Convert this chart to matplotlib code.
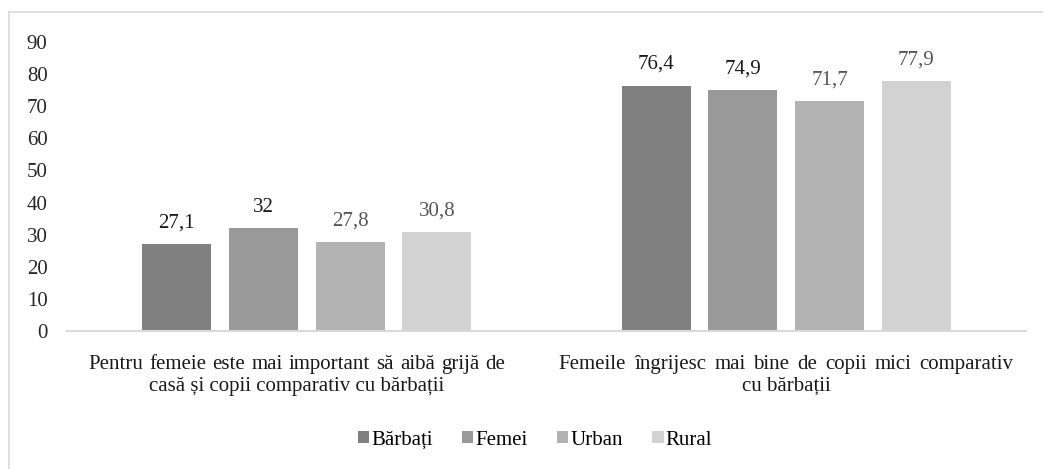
import matplotlib
matplotlib.use("Agg")
import matplotlib.pyplot as plt
from matplotlib.patches import Patch
from matplotlib.lines import Line2D
import numpy as np

categories = [
    "Pentru femeie este mai important să aibă grijă de\ncasă și copii comparativ cu bărbații",
    "Femeile îngrijesc mai bine de copii mici comparativ\ncu bărbații",
]
series_names = ["Bărbați", "Femei", "Urban", "Rural"]
barbati = [27.1, 76.4]
femei = [32, 74.9]
urban = [27.8, 71.7]
rural = [30.8, 77.9]
yticks = [0, 10, 20, 30, 40, 50, 60, 70, 80, 90]

series = [barbati, femei, urban, rural]
colors = ["#808080", "#999999", "#b3b3b3", "#d2d2d2"]
label_colors = ["#1a1a1a", "#1a1a1a", "#555555", "#555555"]

plt.rcParams["font.family"] = ["Liberation Serif", "DejaVu Serif"]
FS = 15

W, H = 1043, 469
fig = plt.figure(figsize=(W / 100, H / 100), dpi=100)
ax = fig.add_axes([67 / W, 1 - 331 / H, (1026 - 67) / W, (331 - 42) / H])

x = np.arange(len(categories))
step = 0.181
width = 0.144
for i, (vals, c, lc) in enumerate(zip(series, colors, label_colors)):
    pos = x + (i - 1.5) * step
    bars = ax.bar(pos, vals, width=width, color=c, label=series_names[i], zorder=2)
    for b, v in zip(bars, vals):
        txt = f"{v:g}".replace(".", ",")
        ax.annotate(txt, (b.get_x() + b.get_width() / 2, v), xytext=(0, 12),
                    textcoords="offset points", ha="center", va="baseline",
                    fontsize=FS, color=lc)

ax.set_xlim(-0.5, 1.5)
ax.set_ylim(0, 90)
ax.set_yticks(yticks)
ax.set_yticklabels([str(t) for t in yticks], fontsize=FS, color="#262626")
ax.set_xticks(x)
ax.set_xticklabels([])
ax.tick_params(axis="both", length=0)
ax.tick_params(axis="y", pad=14)
for s in ["top", "right", "left"]:
    ax.spines[s].set_visible(False)
ax.spines["bottom"].set_color("#d9d9d9")
ax.spines["bottom"].set_linewidth(1.5)

# category labels: first line justified, second line centered (as in the reference)
renderer = fig.canvas.get_renderer()
line_widths = [417, 455]   # px, justified width of first line
shifts = [-10, 0]          # px horizontal shift of label block
base1, base2 = 369, 391    # px from top: baselines
for i, cat in enumerate(categories):
    l1, l2 = cat.split("\n")
    cx = ax.transData.transform((x[i], 0))[0] + shifts[i]
    words = l1.split(" ")
    objs = []
    for w in words:
        t = fig.text(0, 0, w, fontsize=FS, color="#1a1a1a", ha="left", va="baseline")
        objs.append(t)
    widths = [t.get_window_extent(renderer).width for t in objs]
    gap = (line_widths[i] - sum(widths)) / (len(words) - 1)
    xp = cx - line_widths[i] / 2
    for t, wd in zip(objs, widths):
        t.set_position((xp / W, 1 - base1 / H))
        xp += wd + gap
    fig.text(cx / W, 1 - base2 / H, l2, fontsize=FS, color="#1a1a1a",
             ha="center", va="baseline")

handles = [Patch(facecolor=c, edgecolor="none") for c in colors]
fig.legend(handles, series_names, loc="center", bbox_to_anchor=(535 / W, 1 - 440 / H),
           ncol=4, frameon=False, fontsize=FS, handlelength=0.55, handleheight=0.55,
           handletextpad=0.1, columnspacing=1.4)

# outer border (left and top)
fig.add_artist(Line2D([9 / W, 9 / W], [0, 1 - 12 / H], transform=fig.transFigure,
                      color="#d9d9d9", linewidth=1.2))
fig.add_artist(Line2D([9 / W, 1], [1 - 12 / H, 1 - 12 / H], transform=fig.transFigure,
                      color="#d9d9d9", linewidth=1.2))

fig.savefig("out.png", dpi=100)
